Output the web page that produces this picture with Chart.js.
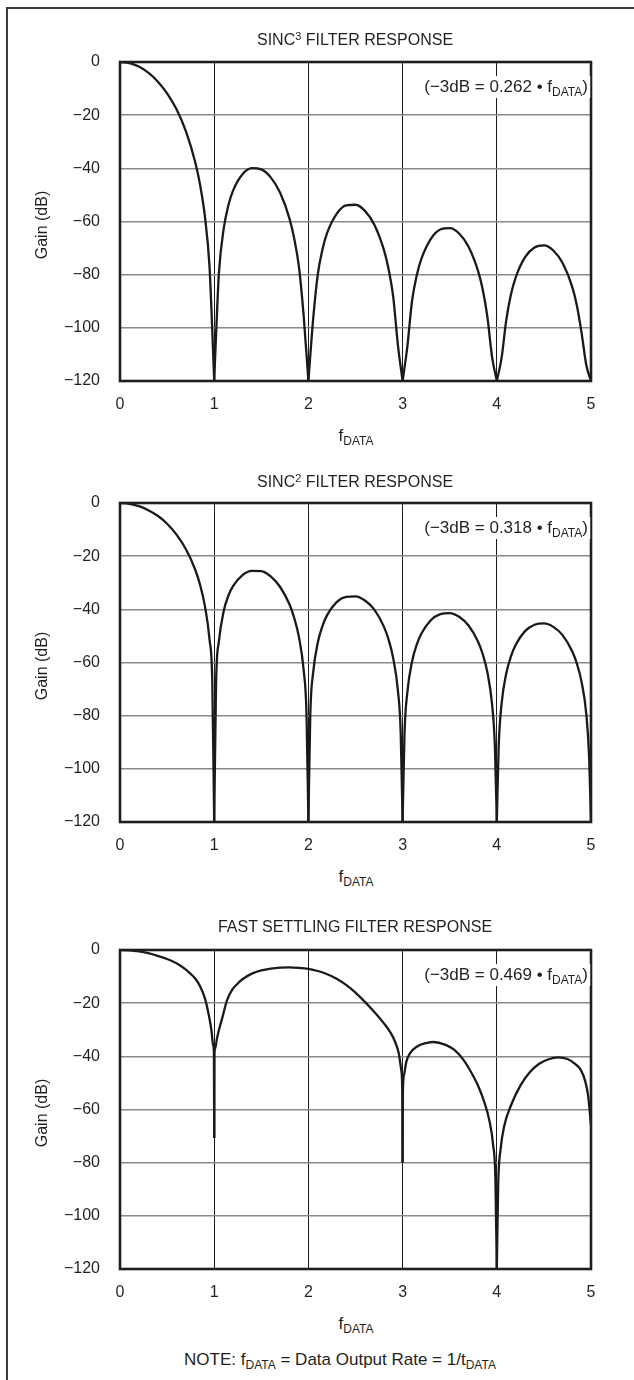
<!DOCTYPE html>
<html>
<head>
<meta charset="utf-8">
<script src="https://cdn.jsdelivr.net/npm/chart.js"></script>
<style>
body { margin: 0; background: #fff; }
#page { position: relative; width: 634px; height: 1380px; overflow: hidden; background: #fff;
        font-family: "Liberation Sans", Arial, sans-serif; color: #231f20; font-size: 16px; }
.frame-left { position: absolute; left: 6px; top: 7px; width: 2px; height: 1380px; background: #3a3a3a; }
.frame-top { position: absolute; left: 6px; top: 7px; width: 640px; height: 2px; background: #3a3a3a; }
canvas { position: absolute; left: 0; }
.txt { position: absolute; white-space: nowrap; transform: translate(-50%, -50%); line-height: 1; }
.rot { transform: translate(-50%, -50%) rotate(-90deg); }
.big { font-size: 17px; }
.note3db { position: absolute; white-space: nowrap; background: #fff; padding: 2px 2px 3px 3px; line-height: 1;
           font-size: 17px; transform: translate(-100%, -50%); }
sub { font-size: 12px; vertical-align: -4px; line-height: 0; }
sup { font-size: 11px; vertical-align: 5px; line-height: 0; }
</style>
</head>
<body>
<div id="page">
  <div class="frame-left"></div>
  <div class="frame-top"></div>

  <canvas id="c1" width="634" height="383"></canvas>
  <canvas id="c2" width="634" height="383"></canvas>
  <canvas id="c3" width="634" height="383"></canvas>

  <div class="txt" style="left:355px; top:40px;">SINC<sup>3</sup> FILTER RESPONSE</div>
  <div class="txt" style="left:355px; top:482px;">SINC<sup>2</sup> FILTER RESPONSE</div>
  <div class="txt" style="left:355px; top:927px;">FAST SETTLING FILTER RESPONSE</div>

  <div class="txt rot" style="left:42px; top:225px;">Gain (dB)</div>
  <div class="txt rot" style="left:42px; top:666px;">Gain (dB)</div>
  <div class="txt rot" style="left:42px; top:1113px;">Gain (dB)</div>

  <div class="txt big" style="left:356px; top:435px;">f<sub>DATA</sub></div>
  <div class="txt big" style="left:356px; top:876px;">f<sub>DATA</sub></div>
  <div class="txt big" style="left:356px; top:1323px;">f<sub>DATA</sub></div>

  <div class="note3db" style="left:590px; top:87px;">(−3dB = 0.262 • f<sub>DATA</sub>)</div>
  <div class="note3db" style="left:590px; top:528px;">(−3dB = 0.318 • f<sub>DATA</sub>)</div>
  <div class="note3db" style="left:590px; top:975px;">(−3dB = 0.469 • f<sub>DATA</sub>)</div>

  <div class="txt big" style="left:340px; top:1359px;">NOTE: f<sub>DATA</sub> = Data Output Rate = 1/t<sub>DATA</sub></div>
</div>

<script>
// axis ticks
const xTicks = [0, 1, 2, 3, 4, 5];
const yTicks = [0, -20, -40, -60, -80, -100, -120];
const yTickLabels = ['0', '−20', '−40', '−60', '−80', '−100', '−120'];

// SINC3 response
const sinc3Freq = [0, 0.1, 0.2, 0.3, 0.4, 0.5, 0.6, 0.7, 0.8, 0.85, 0.9, 0.95, 0.98, 1.0, 1.02, 1.05, 1.1, 1.15, 1.2, 1.3, 1.4, 1.5, 1.6, 1.7, 1.8, 1.85, 1.9, 1.95, 2.0, 2.05, 2.1, 2.15, 2.2, 2.3, 2.4, 2.5, 2.6, 2.7, 2.8, 2.85, 2.9, 2.95, 3.0, 3.05, 3.1, 3.15, 3.2, 3.3, 3.4, 3.5, 3.6, 3.7, 3.8, 3.85, 3.9, 3.95, 4.0, 4.05, 4.1, 4.15, 4.2, 4.3, 4.4, 4.5, 4.6, 4.7, 4.8, 4.85, 4.9, 4.95, 5.0];
const sinc3Gain = [0, -0.4, -1.7, -4.0, -7.3, -11.8, -17.8, -26.1, -37.9, -46.2, -57.7, -76.8, -101.4, -120, -102.5, -79.4, -62.9, -54.0, -48.4, -42.2, -39.9, -40.4, -43.4, -49.2, -59.0, -66.5, -77.2, -95.6, -120, -96.9, -79.8, -70.4, -64.2, -57.1, -53.9, -53.7, -56.0, -61.2, -70.5, -77.7, -88.2, -106.4, -120, -107.2, -89.9, -80.3, -74.0, -66.5, -63.0, -62.5, -64.5, -69.5, -78.5, -85.5, -95.9, -111.0, -120, -111.5, -97.2, -87.5, -81.1, -73.4, -69.8, -69.0, -70.9, -75.7, -84.5, -91.6, -101.9, -114.0, -120];

// SINC2 response
const sinc2Freq = [0, 0.1, 0.2, 0.3, 0.4, 0.5, 0.6, 0.7, 0.8, 0.85, 0.9, 0.95, 0.98, 1.0, 1.02, 1.05, 1.1, 1.15, 1.2, 1.3, 1.4, 1.5, 1.6, 1.7, 1.8, 1.85, 1.9, 1.95, 1.98, 2.0, 2.02, 2.05, 2.1, 2.15, 2.2, 2.3, 2.4, 2.5, 2.6, 2.7, 2.8, 2.85, 2.9, 2.95, 2.98, 3.0, 3.02, 3.05, 3.1, 3.15, 3.2, 3.3, 3.4, 3.5, 3.6, 3.7, 3.8, 3.85, 3.9, 3.95, 3.98, 4.0, 4.02, 4.05, 4.1, 4.15, 4.2, 4.3, 4.4, 4.5, 4.6, 4.7, 4.8, 4.85, 4.9, 4.95, 4.98, 5.0];
const sinc2Gain = [0, -0.3, -1.2, -2.7, -4.8, -7.8, -11.9, -17.4, -25.2, -30.8, -38.5, -51.2, -67.6, -120, -67.5, -52.0, -40.8, -34.9, -31.3, -27.1, -25.5, -25.6, -27.6, -31.6, -38.2, -43.3, -50.5, -63.0, -79.5, -120, -79.6, -63.9, -52.5, -46.2, -42.1, -37.3, -35.3, -35.1, -36.7, -40.1, -46.4, -51.2, -58.3, -70.5, -86.6, -120, -87.0, -71.3, -59.7, -53.3, -49.1, -44.1, -41.8, -41.4, -42.8, -46.1, -52.1, -56.8, -63.7, -75.8, -91.8, -120, -91.6, -75.8, -64.2, -57.7, -53.4, -48.2, -45.8, -45.3, -46.6, -49.8, -55.8, -60.4, -67.3, -79.3, -95.4, -120];

// fast settling response
const fastFreq = [0, 0.1, 0.2, 0.3, 0.4, 0.5, 0.6, 0.7, 0.75, 0.8, 0.85, 0.9, 0.94, 0.97, 0.99, 0.997, 1.0, 1.003, 1.01, 1.03, 1.06, 1.08, 1.11, 1.135, 1.19, 1.25, 1.3, 1.4, 1.5, 1.6, 1.7, 1.8, 1.9, 2.0, 2.1, 2.2, 2.3, 2.4, 2.5, 2.6, 2.7, 2.8, 2.87, 2.92, 2.96, 2.985, 2.997, 3.0, 3.003, 3.015, 3.04, 3.08, 3.15, 3.25, 3.33, 3.45, 3.55, 3.65, 3.72, 3.8, 3.87, 3.92, 3.96, 3.985, 4.0, 4.015, 4.04, 4.08, 4.15, 4.25, 4.35, 4.45, 4.55, 4.65, 4.75, 4.83, 4.89, 4.94, 4.97, 5.0];
const fastGain = [0, -0.1, -0.5, -1.2, -2.2, -3.4, -5.0, -7.4, -9.0, -10.8, -13.6, -18.0, -24.0, -30.0, -36.0, -38.8, -70.7, -38.8, -37.0, -33.2, -28.8, -26.3, -22.2, -19.0, -15.0, -12.6, -11.0, -8.9, -7.7, -7.0, -6.6, -6.5, -6.7, -7.1, -7.9, -9.1, -10.8, -13.1, -16.0, -19.5, -23.3, -27.5, -31.0, -34.5, -39.0, -45.0, -54.0, -80, -54.0, -47.0, -42.0, -38.8, -36.4, -35.0, -34.6, -35.6, -37.6, -41.5, -45.5, -51.0, -57.5, -64.0, -73.0, -86.0, -120, -88.0, -75.0, -66.0, -58.5, -51.0, -46.0, -42.8, -41.1, -40.4, -41.0, -42.8, -45.0, -49.5, -55.0, -66.0];

const PLOT_LEFT = 120, PLOT_RIGHT = 591, PAD_TOP = 30, XAXIS_H = 34, CANVAS_W = 634;

const boxPlugin = {
  id: 'box',
  afterDatasetsDraw(chart) {
    const a = chart.chartArea, ctx = chart.ctx;
    ctx.save();
    ctx.strokeStyle = '#1e1e1e';
    ctx.lineWidth = 2.6;
    ctx.strokeRect(a.left, a.top, a.right - a.left, a.bottom - a.top);
    ctx.restore();
  }
};

// break a curve at its notches so each lobe is its own smooth piece
function lobes(freq, gain) {
  const out = [];
  let cur = [];
  for (let i = 0; i < freq.length; i++) {
    cur.push({ x: freq[i], y: gain[i] });
    if (i > 0 && i < freq.length - 1 && gain[i] < gain[i - 1] && gain[i] < gain[i + 1]) {
      out.push(cur);
      cur = [{ x: freq[i], y: gain[i] }];
    }
  }
  out.push(cur);
  return out;
}

function makeChart(id, freq, gain, plotTop) {
  const canvas = document.getElementById(id);
  const datasets = lobes(freq, gain).map(function(pts) {
    return {
      data: pts,
      borderColor: '#1a1a1a',
      borderWidth: 2.3,
      pointRadius: 0,
      cubicInterpolationMode: 'monotone',
      fill: false
    };
  });
  const chart = new Chart(canvas, {
    type: 'line',
    data: { datasets: datasets },
    options: {
      responsive: false,
      animation: false,
      layout: { padding: { left: 0, top: PAD_TOP, right: CANVAS_W - PLOT_RIGHT, bottom: 0 } },
      plugins: { legend: { display: false }, tooltip: { enabled: false } },
      scales: {
        x: {
          type: 'linear', min: 0, max: 5,
          afterBuildTicks: function(axis) { axis.ticks = xTicks.map(function(v) { return { value: v }; }); },
          afterFit: function(axis) { axis.height = XAXIS_H; },
          border: { display: false },
          grid: { color: '#1a1a1a', lineWidth: 1, drawTicks: false },
          ticks: { padding: 14, color: '#231f20', font: { family: 'Liberation Sans', size: 16 },
                   callback: function(v) { return String(v); } }
        },
        y: {
          type: 'linear', min: -120, max: 0,
          afterBuildTicks: function(axis) { axis.ticks = yTicks.map(function(v) { return { value: v }; }); },
          afterFit: function(axis) { axis.width = PLOT_LEFT; },
          border: { display: false },
          grid: { color: '#8a8a8a', lineWidth: 1.5, drawTicks: false },
          ticks: { padding: 20, color: '#231f20', font: { family: 'Liberation Sans', size: 16 },
                   callback: function(v) { return yTickLabels[yTicks.indexOf(v)]; } }
        }
      }
    },
    plugins: [boxPlugin]
  });
  // pin the plot box to its place on the page
  const a = chart.chartArea;
  canvas.style.top = (plotTop - a.top) + 'px';
  canvas.style.left = (PLOT_LEFT - a.left) + 'px';
  return chart;
}

makeChart('c1', sinc3Freq, sinc3Gain, 62);
makeChart('c2', sinc2Freq, sinc2Gain, 503);
makeChart('c3', fastFreq, fastGain, 950);
</script>
</body>
</html>
